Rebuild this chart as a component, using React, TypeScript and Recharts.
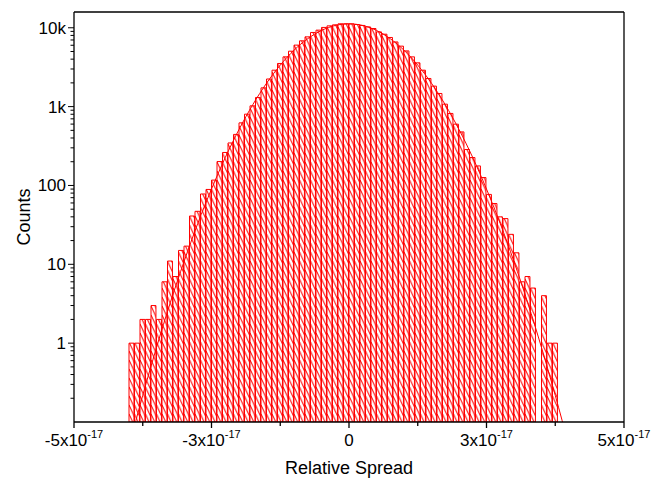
import { Bar, ComposedChart, Line, XAxis, YAxis } from "recharts";

// histogram bins, centers in units of 1e-17 (bin width 0.1e-17)
const binCenters = [
  -3.95, -3.85, -3.75, -3.65, -3.55, -3.45, -3.35, -3.25, -3.15, -3.05,
  -2.95, -2.85, -2.75, -2.65, -2.55, -2.45, -2.35, -2.25, -2.15, -2.05,
  -1.95, -1.85, -1.75, -1.65, -1.55, -1.45, -1.35, -1.25, -1.15, -1.05,
  -0.95, -0.85, -0.75, -0.65, -0.55, -0.45, -0.35, -0.25, -0.15, -0.05,
  0.05, 0.15, 0.25, 0.35, 0.45, 0.55, 0.65, 0.75, 0.85, 0.95,
  1.05, 1.15, 1.25, 1.35, 1.45, 1.55, 1.65, 1.75, 1.85, 1.95,
  2.05, 2.15, 2.25, 2.35, 2.45, 2.55, 2.65, 2.75, 2.85, 2.95,
  3.05, 3.15, 3.25, 3.35, 3.45, 3.55, 3.65, 3.75,
];

const binCounts = [
  1, 1, 2, 2, 3, 2, 6, 11, 7, 15,
  17, 41, 47, 78, 89, 117, 201, 262, 346, 444,
  622, 802, 1023, 1306, 1730, 2240, 2898, 3525, 4276, 5047,
  6025, 6830, 7670, 8720, 9330, 10100, 10570, 10890, 11220, 11220,
  11200, 11000, 10700, 10260, 9780, 8870, 8290, 7530, 6610, 5850,
  5090, 4276, 3590, 2898, 2275, 1820, 1468, 1074, 819, 599,
  478, 286, 226, 177, 126, 77, 59, 40, 38, 24,
  14, 6, 7, 5, null, 4, 1, 1,
];

// gaussian fit curve
const fitX = [
  -4, -3.75, -3.5, -3.25, -3, -2.75, -2.5, -2.25, -2, -1.75, -1.5, -1.25,
  -1, -0.75, -0.5, -0.25, 0, 0.25, 0.5, 0.75, 1, 1.25, 1.5, 1.75, 2, 2.25,
  2.5, 2.75, 3, 3.25, 3.5, 3.75, 4,
];
const fitCounts = [
  0.049, 0.218, 0.88, 3.25, 10.8, 32.9, 90, 226, 513, 1057, 1977, 3360,
  5190, 7270, 9250, 10690, 11220, 10690, 9250, 7270, 5190, 3360, 1977, 1057,
  513, 226, 90, 32.9, 10.8, 3.25, 0.88, 0.218, 0.049,
];

const xTickValues = [-5, -3.75, -2.5, -1.25, 0, 1.25, 2.5, 3.75, 5];
const xTickLabels = ["-5x10", "", "-3x10", "", "0", "", "3x10", "", "5x10"];
const xTickExponents = ["-17", "", "-17", "", "", "", "-17", "", "-17"];

const yMajorTicks = [1, 10, 100, 1000, 10000];
const yMajorLabels = ["1", "10", "100", "1k", "10k"];
const yDecades = [0.1, 1, 10, 100, 1000];

const yMinorTicks = yDecades.flatMap((d) =>
  [2, 3, 4, 5, 6, 7, 8, 9].map((m) => +(d * m).toPrecision(3))
);
const yTicks = [...yMajorTicks, ...yMinorTicks].sort((a, b) => a - b);

const histogram = binCenters.map((x, i) => ({ x, count: binCounts[i] }));
const fitData = fitX.map((x, i) => ({ x, fit: fitCounts[i] }));

const RED = "#ff0000";
const FONT = '"Liberation Sans", Arial, sans-serif';
const axisLine = { stroke: "#000", strokeWidth: 1.3 };

function XTick(props: any) {
  const { x, y, payload } = props;
  const i = xTickValues.indexOf(payload.value);
  const label = xTickLabels[i];
  const major = label !== "";
  return (
    <g>
      <line x1={x} x2={x} y1={y} y2={y + (major ? 6 : 4)} stroke="#000" strokeWidth={1.3} />
      {major && (
        <text x={x} y={y + 24} textAnchor="middle" fontFamily={FONT} fontSize={17} fill="#000">
          {label}
          {xTickExponents[i] && (
            <tspan dy={-8} fontSize={11}>
              {xTickExponents[i]}
            </tspan>
          )}
        </text>
      )}
    </g>
  );
}

function YTick(props: any) {
  const { x, y, payload } = props;
  const i = yMajorTicks.indexOf(payload.value);
  const major = i >= 0;
  return (
    <g>
      <line x1={x} x2={x - (major ? 6 : 3.5)} y1={y} y2={y} stroke="#000" strokeWidth={1} />
      {major && (
        <text x={x - 8} y={y + 6} textAnchor="end" fontFamily={FONT} fontSize={17} fill="#000">
          {yMajorLabels[i]}
        </text>
      )}
    </g>
  );
}

export default function App() {
  return (
    <div style={{ position: "absolute", left: 0, top: 0, width: 660, height: 479, background: "#fff" }}>
      <ComposedChart
        width={660}
        height={479}
        data={histogram}
        margin={{ top: 11, right: 35, bottom: 0, left: 0 }}
        barCategoryGap={0}
        barGap={0}
      >
        <defs>
          <pattern id="hatch" patternUnits="userSpaceOnUse" x={129} y={0} width={5.5} height={9}>
            <path d="M0,-9 L5.5,3 M0,0 L5.5,12 M0,9 L5.5,21" stroke={RED} strokeWidth={1} fill="none" />
          </pattern>
        </defs>
        <XAxis
          xAxisId="bins"
          dataKey="x"
          type="number"
          domain={[-5, 5]}
          allowDataOverflow
          ticks={xTickValues}
          interval={0}
          height={57}
          tickSize={0}
          tickMargin={0}
          tickLine={false}
          tick={<XTick />}
          axisLine={axisLine}
        />
        <XAxis
          xAxisId="fit"
          dataKey="x"
          type="number"
          orientation="top"
          domain={[-5, 5]}
          allowDataOverflow
          height={1}
          tick={false}
          tickLine={false}
          axisLine={axisLine}
        />
        <YAxis
          yAxisId="counts"
          type="number"
          scale="log"
          domain={[0.1, 15849]}
          allowDataOverflow
          ticks={yTicks}
          interval={0}
          width={74}
          tickSize={0}
          tickMargin={0}
          tickLine={false}
          tick={<YTick />}
          axisLine={axisLine}
        />
        <YAxis
          yAxisId="frame"
          type="number"
          scale="log"
          orientation="right"
          domain={[0.1, 15849]}
          allowDataOverflow
          width={1}
          tick={false}
          tickLine={false}
          axisLine={axisLine}
        />
        <Bar
          xAxisId="bins"
          yAxisId="counts"
          dataKey="count"
          barSize={5.5}
          fill="url(#hatch)"
          stroke={RED}
          strokeWidth={1}
          isAnimationActive={false}
        />
        <Line
          xAxisId="fit"
          yAxisId="counts"
          data={fitData}
          dataKey="fit"
          type="monotone"
          stroke={RED}
          strokeWidth={1}
          dot={false}
          isAnimationActive={false}
        />
        <text x={349} y={474} textAnchor="middle" fontFamily={FONT} fontSize={18} fill="#000">
          Relative Spread
        </text>
        <text transform="translate(30,217) rotate(-90)" textAnchor="middle" fontFamily={FONT} fontSize={18} fill="#000">
          Counts
        </text>
      </ComposedChart>
    </div>
  );
}
